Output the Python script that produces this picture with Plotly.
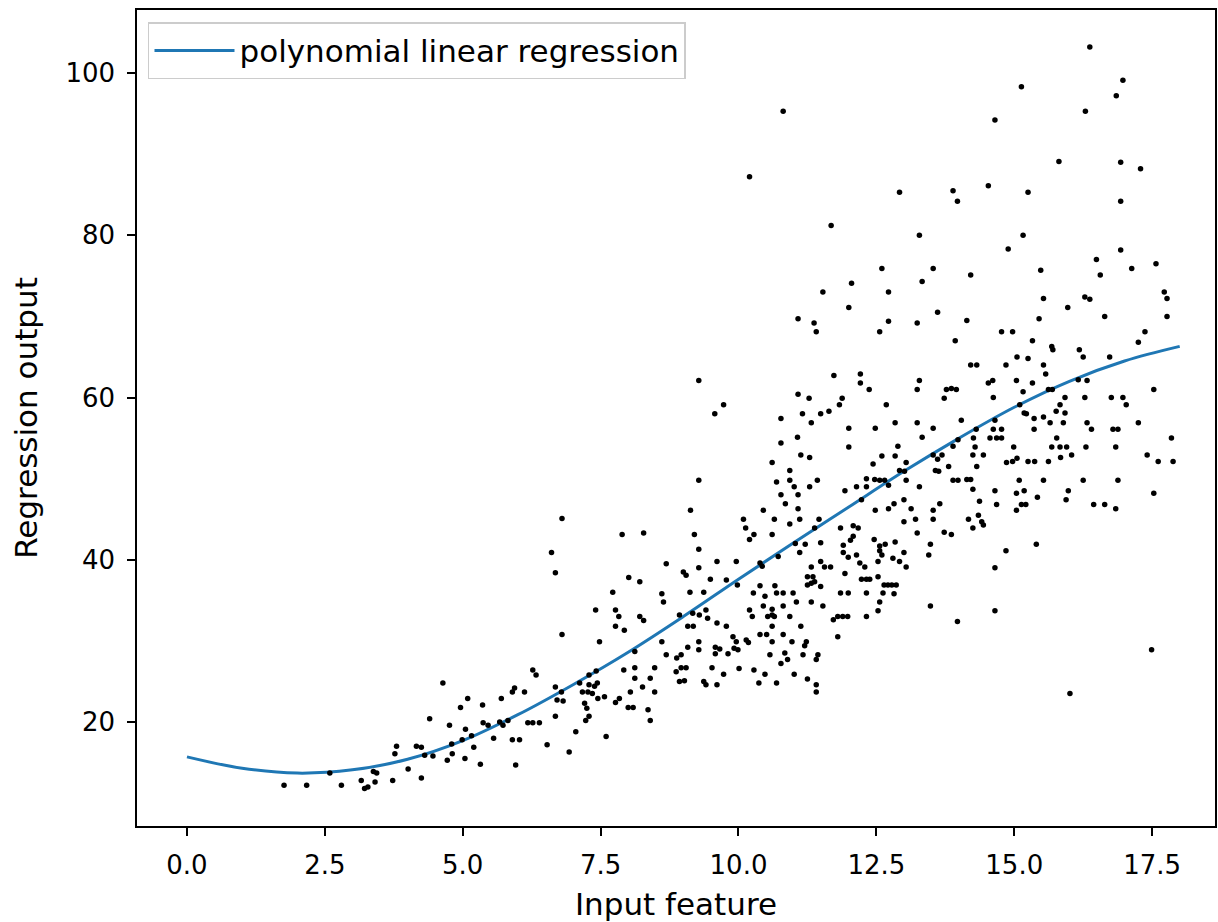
import plotly.graph_objects as go

# ---------------- data ----------------
curve_x = [0, 1, 2, 3, 4, 5, 6, 7, 8, 9, 10, 11, 12, 13, 14, 15, 16, 17, 18]
curve_y = [15.7, 14.3, 13.7, 14.1, 15.4, 17.7, 20.9, 24.6, 28.6, 33.0,
           37.6, 42.1, 46.5, 50.9, 55.0, 58.8, 62.0, 64.5, 66.3]

feature_x = [
    # low x region
    4.64, 5.09, 4.96, 5.36, 5.70, 4.40, 4.76, 5.37, 5.46, 5.05, 5.56, 3.80, 3.77, 4.16, 4.25, 4.31, 4.46, 4.80, 4.99,
    5.16, 5.20, 4.81, 4.72, 5.04, 5.32, 2.59, 3.38, 3.44, 4.01, 3.16, 3.41, 3.73, 4.25, 3.22, 3.28, 1.76, 2.17, 2.80,
    # x 5.8 - 9.9 upper
    9.28, 9.73, 9.57, 9.28, 9.13, 6.80,
    7.89, 8.28, 9.20, 9.28, 6.61, 6.68, 8.69, 9.00, 9.05, 9.28, 9.61, 9.49, 9.78, 8.01, 8.21, 7.72, 8.61, 8.64, 9.12,
    9.37, 7.41, 7.77, 7.83, 8.21, 8.28, 7.77, 7.93, 8.93, 9.17, 9.29, 9.44, 9.41, 9.08, 9.18, 9.61, 9.78, 6.80,
    # x 5.8 - 9.9 lower
    7.48, 8.61, 9.28, 9.28, 9.08, 8.96, 8.88, 8.69, 9.58, 9.66, 9.58, 9.81, 8.12, 8.12, 7.92, 8.48, 8.87, 8.96, 9.05,
    9.52, 9.73, 8.12, 8.40, 8.93, 9.02, 9.37, 9.41, 9.61, 8.26, 8.04, 8.48, 6.27, 6.33, 5.90, 5.94, 6.12,
    6.68, 6.79, 6.71, 6.82, 7.12, 7.29, 7.42, 7.29, 7.39, 7.44, 7.17, 7.27, 7.35, 7.45, 7.57, 7.21, 7.25, 7.29, 7.23,
    7.77, 7.84, 8.00, 8.09, 8.36, 8.40, 5.67, 5.73, 5.82, 6.18, 6.27, 6.39, 6.68, 5.90, 6.03, 6.53, 7.05, 7.60, 6.93,
    5.96,
    # x 10 - 14 top
    10.81, 10.20, 11.68, 12.92, 13.89, 13.97, 13.28,
    12.60, 13.53, 12.05, 13.33, 11.53, 12.72, 12.00, 13.61, 11.08, 11.37, 11.41, 12.72, 12.56, 13.24, 13.93, 11.73,
    12.21, 12.21, 12.37, 13.28, 13.24, 13.77, 13.86, 13.95, 13.73, 11.08, 11.28, 11.88, 11.83, 12.68, 10.77, 11.16,
    11.32, 11.49, 11.64, 12.00, 12.48, 12.84, 13.24, 13.53, 14.04,
    # x 10 - 14 middle
    10.77, 11.07, 12.00, 12.89, 13.33, 11.13, 11.29, 10.61, 10.93, 10.69, 10.93, 11.01, 11.43, 11.29, 10.77, 11.08,
    10.85, 11.08, 10.45, 10.09, 10.13, 10.65, 11.11, 10.93, 11.46, 11.38, 10.28, 10.20, 10.61, 11.03, 11.21, 11.49,
    11.11, 10.72, 9.96, 10.39, 10.43, 9.98, 10.27, 10.39, 10.48, 10.66, 10.69, 10.81, 10.99, 11.32, 11.25, 11.35,
    11.32, 11.25, 11.38, 11.49, 11.56, 11.67, 11.49, 11.93, 11.85, 11.99, 11.85, 12.08, 12.17, 12.08, 12.03, 11.90,
    11.90, 11.99, 12.14, 12.20, 12.29, 12.23, 12.32, 12.38, 12.32, 12.46, 12.56, 12.66, 12.56, 12.60, 12.53, 12.53,
    12.64, 12.71, 12.78, 12.86, 12.62, 12.82, 12.84, 12.80, 12.92, 13.00, 13.04, 13.48, 13.45, 13.24, 13.00, 13.21,
    13.53, 13.53, 13.65, 13.73, 13.86, 13.13, 13.00, 12.72, 12.82, 12.48, 13.28, 11.93, 12.14, 12.32, 12.32, 12.47,
    12.56, 12.65, 12.72, 12.23, 12.44, 12.60, 12.84, 13.04, 12.92, 13.01, 13.04, 13.53, 13.61, 13.69, 13.57, 13.63,
    13.81, 13.89, 13.98, 13.89, 13.98,
    # x 10 - 14 bottom
    10.20, 10.25, 10.45, 10.61, 10.61, 10.53, 10.65, 10.81, 11.05, 11.32, 11.53, 10.93, 11.13, 10.61, 10.39, 10.51,
    10.81, 10.61, 10.97, 11.23, 11.20, 9.90, 9.96, 9.92, 9.99, 10.14, 10.18, 10.57, 10.84, 10.89, 10.77, 11.17,
    11.44, 11.41, 10.01, 10.28, 10.48, 11.01, 11.25, 10.37, 10.69, 11.41, 11.41, 11.72, 11.80, 11.89, 11.98, 12.32,
    12.53, 12.56, 11.80, 13.48, 13.97,
    # x 14 - 18 top
    16.37, 15.13, 16.97, 16.85, 14.65, 16.29, 15.81, 16.93, 17.29, 14.53, 15.25, 16.93, 15.16, 14.89, 16.93,
    14.21, 15.48, 16.49, 16.56, 17.13, 17.57, 15.53, 16.28, 16.37, 15.97, 17.72, 17.77, 17.77, 16.64, 15.45, 14.14,
    14.77, 14.97, 17.37, 17.25, 15.33, 15.68, 15.70, 16.18, 16.25, 15.05, 15.25, 16.73, 14.21, 14.32, 14.85, 15.53,
    15.57, 14.53, 14.61, 15.04, 15.33, 15.16, 15.62, 15.69, 16.16, 16.32, 17.53, 14.62, 15.92, 16.28, 16.76, 16.97,
    # x 14 - 18 middle
    15.83, 17.03, 15.18, 15.22, 15.76, 15.92, 15.36, 15.53, 15.65, 15.89, 16.32, 16.40, 17.25, 15.36, 16.79, 16.88,
    17.85, 15.77, 15.10, 14.65, 14.31, 14.62, 14.77, 14.56, 14.68, 14.77, 14.26, 14.29, 14.99, 15.68, 15.83, 15.95,
    16.30, 16.84, 14.25, 14.44, 15.84, 16.04, 14.86, 14.97, 15.05, 15.25, 15.37, 15.62, 17.41, 17.61, 17.88, 14.32,
    14.14, 14.21, 15.09, 15.53, 16.25, 16.88, 14.25, 14.65, 15.04, 15.18, 15.98, 15.94, 15.42, 17.53, 14.37, 14.68,
    15.13, 15.21, 15.04, 16.44, 16.64, 16.84, 14.17, 14.35, 14.41, 14.44, 14.25,
    # x 14 - 18 bottom
    14.85, 15.40, 14.65, 14.65, 17.49, 16.01,
]

output_y = [
    # low x region
    24.8, 22.9, 21.8, 22.1, 22.9, 20.4, 19.6, 19.9, 19.6, 19.1, 18.0, 17.0, 16.1, 17.0, 16.9, 15.9, 15.8, 17.3, 17.8,
    18.3, 16.9, 16.1, 15.3, 15.5, 14.8, 13.7, 13.9, 13.7, 14.2, 12.8, 12.6, 12.8, 13.1, 11.8, 12.0, 12.2, 12.2, 12.2,
    # x 5.8 - 9.9 upper
    62.1, 59.1, 58.0, 49.8, 46.1, 45.1,
    43.1, 43.3, 43.1, 41.3, 40.9, 38.4, 39.5, 38.5, 38.1, 39.0, 39.8, 37.6, 37.5, 37.8, 37.3, 36.0, 35.8, 34.8, 36.0,
    36.0, 33.8, 33.8, 33.0, 33.0, 32.5, 31.8, 31.3, 33.2, 33.4, 33.2, 32.8, 33.8, 31.8, 31.8, 32.2, 31.8, 30.8,
    # x 5.8 - 9.9 lower
    29.9, 29.9, 29.9, 28.9, 29.2, 28.3, 27.9, 28.3, 29.2, 29.0, 28.4, 28.4, 28.7, 26.7, 26.4, 26.7, 26.2, 26.7, 26.7,
    26.7, 25.9, 25.4, 25.4, 25.0, 25.1, 25.0, 24.6, 24.6, 24.3, 23.7, 23.7, 26.4, 25.8, 23.7, 24.2, 23.7,
    24.3, 23.7, 22.7, 22.6, 24.8, 25.8, 26.3, 24.6, 24.4, 24.8, 23.7, 23.7, 23.5, 22.9, 23.1, 22.3, 21.7, 20.7, 20.2,
    22.4, 22.9, 21.8, 21.8, 21.5, 20.2, 20.0, 19.6, 20.2, 19.9, 19.9, 19.9, 20.7, 17.8, 17.8, 17.2, 18.8, 18.2, 16.3,
    14.7,
    # x 10 - 14 top
    95.3, 87.2, 81.2, 85.3, 85.5, 84.2, 80.0,
    75.9, 75.9, 74.1, 74.3, 73.0, 73.0, 71.1, 70.5, 69.7, 69.2, 68.1, 69.4, 68.1, 69.2, 67.0, 62.7,
    62.9, 61.8, 61.0, 62.1, 61.0, 61.0, 61.1, 61.0, 59.9, 60.4, 59.9, 59.9, 59.1, 59.1, 57.4, 58.0,
    56.9, 58.0, 58.3, 56.2, 56.2, 56.9, 56.9, 56.2, 57.2,
    # x 10 - 14 middle
    54.4, 55.1, 53.9, 54.0, 55.1, 52.9, 52.6, 52.0, 51.0, 49.6, 49.8, 49.0, 49.8, 49.0, 48.0, 48.0,
    46.9, 46.3, 46.1, 45.0, 43.9, 45.0, 45.0, 44.4, 45.0, 43.9, 43.1, 42.5, 43.1, 42.0, 41.9, 42.1,
    40.9, 40.4, 39.8, 39.6, 39.2, 36.9, 35.9, 36.8, 35.5, 36.8, 35.9, 35.9, 35.9, 39.1, 37.9, 37.9,
    37.1, 36.9, 37.3, 39.8, 39.1, 39.1, 36.7, 38.3, 35.9, 35.9, 43.9, 44.2, 43.9, 42.9, 42.4, 41.8,
    40.9, 40.3, 40.6, 39.6, 39.1, 37.6, 37.6, 37.6, 35.9, 42.5, 41.7, 41.9, 41.1, 40.6, 39.8, 37.9,
    36.9, 36.9, 36.9, 36.9, 35.9, 35.8, 42.2, 40.2, 39.8, 40.9, 39.1, 41.9, 40.6, 43.3, 44.7, 45.0,
    45.0, 46.1, 46.9, 43.4, 43.1, 46.3, 47.4, 46.3, 46.9, 46.1, 49.0, 48.5, 49.0, 50.0, 49.0, 49.9,
    49.8, 49.8, 49.2, 47.4, 51.8, 52.8, 52.8, 52.0, 51.0, 50.9, 49.8, 52.9, 52.4, 52.9, 51.0, 50.9,
    51.5, 54.0, 54.8, 49.8, 49.8,
    # x 10 - 14 bottom
    33.8, 33.0, 34.3, 33.9, 33.2, 33.0, 33.0, 34.3, 34.8, 34.8, 34.3, 33.0, 31.8, 31.8, 30.8, 30.8,
    30.8, 29.9, 29.9, 29.9, 29.4, 30.5, 29.9, 29.1, 28.9, 30.1, 29.8, 28.3, 28.5, 27.7, 27.2, 28.3,
    28.3, 27.7, 26.6, 26.4, 25.9, 25.9, 25.3, 24.8, 24.8, 24.6, 23.7, 32.6, 33.0, 33.0, 33.0, 33.0,
    33.7, 34.8, 30.5, 34.3, 32.4,
    # x 14 - 18 top
    103.2, 98.3, 99.1, 97.2, 94.2, 95.3, 89.1, 89.0, 88.2, 86.1, 85.3, 84.2, 80.0, 78.3, 78.2,
    75.1, 75.7, 77.0, 75.1, 75.9, 76.5, 72.2, 72.4, 72.1, 71.1, 73.0, 72.2, 70.0, 70.0, 69.7, 69.5,
    68.1, 68.1, 68.1, 66.8, 67.0, 66.3, 65.9, 65.9, 65.0, 65.0, 64.8, 65.0, 64.0, 64.0, 64.0, 64.0,
    62.9, 61.8, 62.1, 62.1, 61.8, 60.7, 61.0, 61.0, 62.2, 62.1, 61.0, 60.0, 60.0, 60.0, 60.0, 60.0,
    # x 14 - 18 middle
    59.1, 59.1, 58.1, 58.0, 58.3, 58.1, 57.4, 57.6, 56.9, 56.9, 56.9, 56.1, 56.9, 56.1, 56.1, 56.1,
    55.0, 55.0, 59.1, 57.2, 56.1, 56.1, 56.1, 55.0, 55.0, 55.0, 55.0, 53.9, 53.9, 53.9, 53.9, 53.9,
    53.9, 53.9, 52.9, 52.9, 52.6, 52.9, 52.0, 52.1, 52.5, 52.1, 52.1, 52.1, 52.9, 52.1, 52.1, 51.5,
    49.9, 49.9, 49.8, 49.8, 49.8, 49.8, 48.7, 48.5, 48.2, 48.5, 48.5, 47.4, 47.7, 48.2, 47.2, 46.8,
    46.8, 46.8, 46.1, 46.8, 46.8, 46.3, 45.0, 45.5, 44.7, 44.3, 43.9,
    # x 14 - 18 bottom
    41.1, 41.9, 39.0, 33.7, 28.9, 23.5,
]

x_ticks = [0, 2.5, 5, 7.5, 10, 12.5, 15, 17.5]
x_tick_labels = ["0.0", "2.5", "5.0", "7.5", "10.0", "12.5", "15.0", "17.5"]
y_ticks = [20, 40, 60, 80, 100]
y_tick_labels = ["20", "40", "60", "80", "100"]

# ---------------- figure ----------------
FONT = "DejaVu Sans"
TICK_SIZE = 26
LABEL_SIZE = 31

fig = go.Figure()
fig.add_trace(go.Scatter(
    x=curve_x, y=curve_y, mode="lines", line=dict(color="#1f77b4", width=3, shape="spline"),
    name="polynomial linear regression", showlegend=True,
))
fig.add_trace(go.Scatter(
    x=feature_x, y=output_y, mode="markers",
    marker=dict(color="black", size=5.5, line=dict(width=0)),
    showlegend=False, name="data",
))

axis_common = dict(
    showline=True, linecolor="black", linewidth=1.5, mirror=True,
    ticks="outside", ticklen=8, tickwidth=1.5, tickcolor="black",
    showgrid=False, zeroline=False,
    tickfont=dict(family=FONT, size=TICK_SIZE, color="black"),
)

fig.update_layout(
    width=1218, height=922,
    margin=dict(l=137, r=3, t=10, b=96),
    paper_bgcolor="white", plot_bgcolor="white",
    font=dict(family=FONT, size=TICK_SIZE, color="black"),
    xaxis=dict(range=[-0.906, 18.64], tickvals=x_ticks, ticktext=x_tick_labels,
               ticklabelstandoff=7,
               title=dict(text="Input feature", font=dict(family=FONT, size=LABEL_SIZE), standoff=15),
               automargin=False, **axis_common),
    yaxis=dict(range=[7.18, 107.77], tickvals=y_ticks, ticktext=y_tick_labels,
               ticklabelstandoff=7,
               title=dict(text="Regression output", font=dict(family=FONT, size=LABEL_SIZE), standoff=19),
               automargin=False, **axis_common),
    legend=dict(x=0.0102, y=0.985, xanchor="left", yanchor="top",
                bgcolor="rgba(255,255,255,0.8)", bordercolor="#cccccc", borderwidth=1.5,
                font=dict(family=FONT, size=LABEL_SIZE, color="black"),
                itemwidth=80),
)

fig.write_html("out.html")
